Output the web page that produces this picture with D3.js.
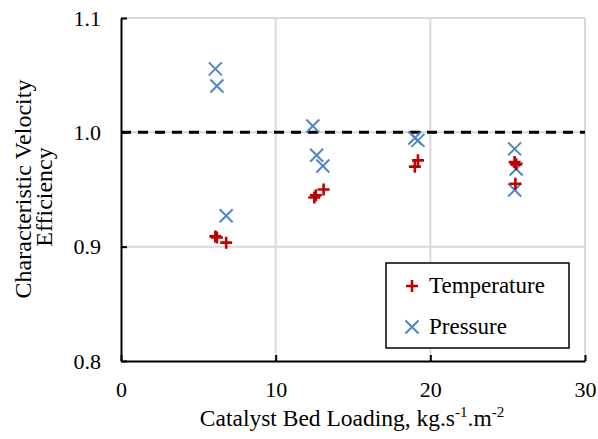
<!DOCTYPE html>
<html><head><meta charset="utf-8">
<script src="https://cdn.jsdelivr.net/npm/d3@7"></script>
<style>body{margin:0;background:#fff}svg{display:block}
svg text{font-family:'Liberation Serif','DejaVu Serif','Noto Serif',Times,serif !important}</style>
</head><body><svg id="c" width="598" height="439"></svg>
<script>
const xTicks = [0, 10, 20, 30];
const yTicks = [0.8, 0.9, 1.0, 1.1];
const tempX = [6.1, 6.2, 6.8, 12.5, 12.6, 13.1, 19.0, 19.2, 25.45, 25.55, 25.5];
const tempY = [0.909, 0.908, 0.9035, 0.943, 0.945, 0.950, 0.970, 0.9755, 0.974, 0.972, 0.955];
const presX = [6.1, 6.2, 6.8, 12.4, 12.65, 13.05, 19.0, 19.2, 25.45, 25.55, 25.45];
const presY = [1.0555, 1.0405, 0.927, 1.0055, 0.980, 0.9705, 0.995, 0.993, 0.9855, 0.968, 0.9495];
const seriesNames = ["Temperature", "Pressure"];

const svg = d3.select("#c");
const x = d3.scaleLinear().domain([0, 30]).range([121, 585]);
const y = d3.scaleLinear().domain([0.8, 1.1]).range([361, 18]);

// grid
svg.append("g").selectAll("line").data(xTicks.slice(1)).join("line")
  .attr("x1", d => x(d)).attr("x2", d => x(d)).attr("y1", y(0.8)).attr("y2", y(1.1))
  .attr("stroke", "#d9d9d9").attr("stroke-width", 2);
svg.append("g").selectAll("line").data(yTicks.slice(1)).join("line")
  .attr("x1", x(0)).attr("x2", x(30)).attr("y1", d => y(d)).attr("y2", d => y(d))
  .attr("stroke", "#d9d9d9").attr("stroke-width", 2);

// axes
const xAxis = svg.append("g").attr("transform", `translate(0,${y(0.8)})`)
  .call(d3.axisBottom(x).tickValues(xTicks).tickFormat(d3.format("d")).tickSizeInner(-6).tickSizeOuter(0).tickPadding(20));
const yAxis = svg.append("g").attr("transform", `translate(${x(0)},0)`)
  .call(d3.axisLeft(y).tickValues(yTicks).tickFormat(d3.format(".1f")).tickSizeInner(-6).tickSizeOuter(0).tickPadding(20));
[xAxis, yAxis].forEach(a => {
  a.attr("font-size", 22);
  a.select(".domain").attr("stroke", "#000").attr("stroke-width", 2);
  a.selectAll(".tick line").attr("stroke", "#000").attr("stroke-width", 2);
  a.selectAll(".tick text").attr("fill", "#000");
});
xAxis.selectAll(".tick text").attr("dy", "0.71em");

// reference dashed line
svg.append("line").attr("x1", x(0)).attr("x2", x(30)).attr("y1", y(1.0)).attr("y2", y(1.0))
  .attr("stroke", "#000").attr("stroke-width", 3).attr("stroke-dasharray", "10,7");

// markers
const plus = (g, cx, cy, s) => g.append("path")
  .attr("d", `M${cx - s},${cy}H${cx + s}M${cx},${cy - s}V${cy + s}`)
  .attr("stroke", "#c00000").attr("stroke-width", 2.6).attr("fill", "none");
const cross = (g, cx, cy, s) => g.append("path")
  .attr("d", `M${cx - s},${cy - s}L${cx + s},${cy + s}M${cx - s},${cy + s}L${cx + s},${cy - s}`)
  .attr("stroke", "#4f86c6").attr("stroke-width", 2).attr("fill", "none");

const gP = svg.append("g");
presX.forEach((v, i) => cross(gP, x(v), y(presY[i]), 6.5));
const gT = svg.append("g");
tempX.forEach((v, i) => plus(gT, x(v), y(tempY[i]), 6));

// axis titles
svg.append("text").attr("x", 352).attr("y", 426).attr("text-anchor", "middle").attr("font-size", 23.5)
  .html('Catalyst Bed Loading, kg.s<tspan dy="-9" font-size="15">-1</tspan><tspan dy="9">.m</tspan><tspan dy="-9" font-size="15">-2</tspan>');
const yt = svg.append("text").attr("transform", "rotate(-90)").attr("text-anchor", "middle").attr("font-size", 24);
yt.append("tspan").attr("x", -189).attr("y", 31).text("Characteristic Velocity");
yt.append("tspan").attr("x", -197).attr("y", 52).text("Efficiency");

// legend
const lg = svg.append("g").attr("font-size", 23);
lg.append("rect").attr("x", 386).attr("y", 263).attr("width", 183).attr("height", 85)
  .attr("fill", "#fff").attr("stroke", "#000").attr("stroke-width", 1.5);
plus(lg, 412, 286, 6);
cross(lg, 412, 327, 6.5);
lg.append("text").attr("x", 429).attr("y", 293).text(seriesNames[0]);
lg.append("text").attr("x", 429).attr("y", 334).text(seriesNames[1]);
</script></body></html>
